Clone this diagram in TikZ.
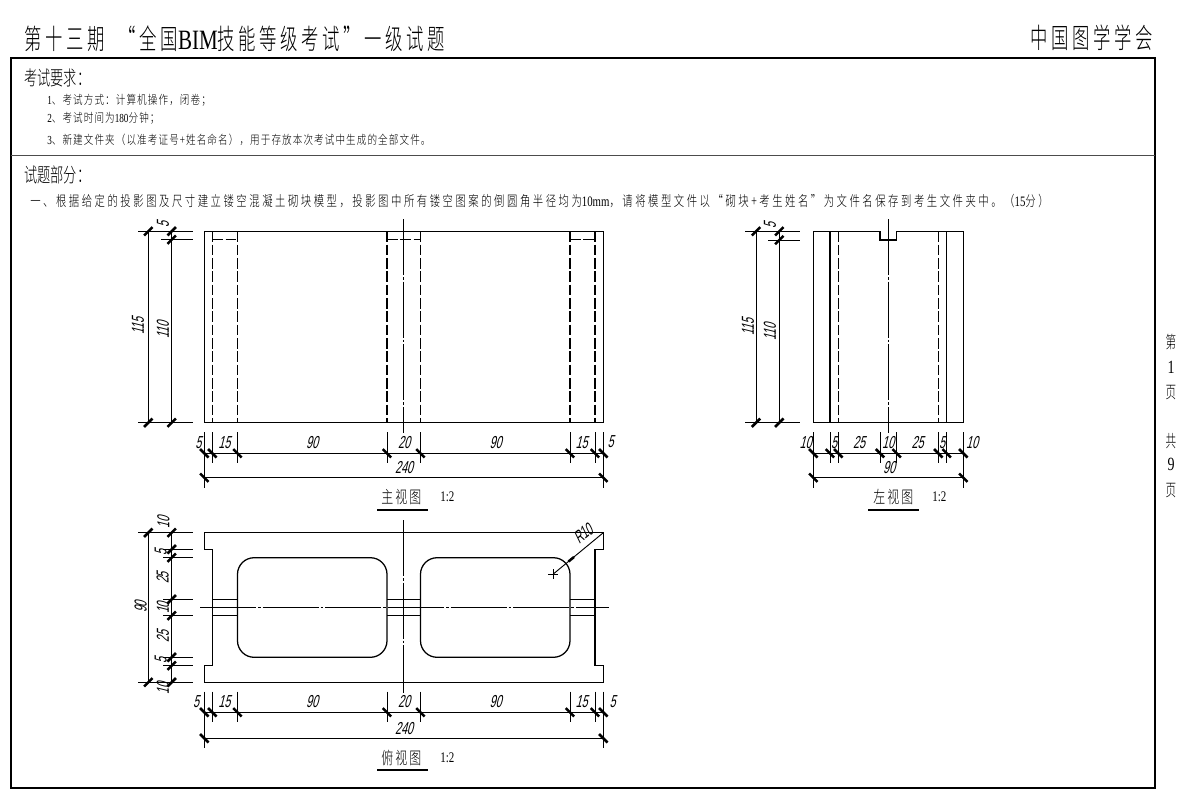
\documentclass[tikz,border=0pt]{standalone}
\usepackage{fontspec}
\setmainfont{Liberation Serif}
\newfontfamily\cjkorg[FakeStretch=.62,LetterSpace=13,UprightFont=* Light]{Noto Sans CJK SC}
\newfontfamily\cjkhead[FakeStretch=.62,UprightFont=* Light]{Noto Sans CJK SC}
\newfontfamily\cjksub[FakeStretch=.66,UprightFont=* Light]{Noto Sans CJK SC}
\newfontfamily\cjklist[FakeStretch=.78,LetterSpace=9,UprightFont=* Light]{Noto Sans CJK SC}
\newfontfamily\cjkquest[FakeStretch=.72,LetterSpace=17.5,UprightFont=* Light]{Noto Sans CJK SC}
\newfontfamily\cjkview[FakeStretch=.7,LetterSpace=12,UprightFont=* Light]{Noto Sans CJK SC}
\newfontfamily\latinnarrow[FakeStretch=.75]{Liberation Serif}
\newfontfamily\dimfam[FakeStretch=.62,FakeSlant=.25]{Liberation Sans}
\tikzset{
  frameline/.style={line width=1.5pt,black},
  dividerline/.style={line width=1pt,black!70},
  outline/.style={line width=.95pt,black},
  hidden/.style={line width=.95pt,black,dash pattern=on 8pt off 2pt},
  centerline/.style={line width=.7pt,black,dash pattern=on 42pt off 1.5pt on 2pt off 1.5pt},
  extline/.style={line width=.7pt,black},
  dimline/.style={line width=.7pt,black},
  tickmark/.style={line width=1.9pt,black},
  viewrule/.style={line width=1.7pt,black},
  htick/.pic={\draw[tickmark] (-4.2,4.2) -- (4.2,-4.2);},
  vtick/.pic={\draw[tickmark] (-4.2,-4.2) -- (4.2,4.2);},
  dimlabel/.style={font=\fontsize{13}{13}\dimfam,inner sep=0pt},
  vdimlabel/.style={dimlabel,rotate=90},
  headtext/.style={font=\fontsize{21}{21}\cjkorg,inner sep=0pt,anchor=west},
  orgtext/.style={font=\fontsize{21}{21}\cjkorg,inner sep=0pt,anchor=east},
  subtext/.style={font=\fontsize{15}{15}\cjksub,inner sep=0pt,anchor=west},
  listtext/.style={font=\fontsize{9.2}{9.2}\cjklist,inner sep=0pt,anchor=west},
  questtext/.style={font=\fontsize{10.8}{10.8}\cjkquest,inner sep=0pt,anchor=west},
  viewtext/.style={font=\fontsize{12.8}{12.8}\cjkview,inner sep=0pt},
  scaletext/.style={font=\fontsize{11}{11}\latinnarrow,inner sep=0pt},
  pagetext/.style={font=\fontsize{12.8}{12.8}\cjkhead,inner sep=0pt},
  pagenum/.style={font=\fontsize{14}{14}\latinnarrow,inner sep=0pt}
}
\begin{document}
\begin{tikzpicture}[x=0.75pt,y=0.75pt,yscale=-1,xscale=1]
    \useasboundingbox (0,0) rectangle (1184,806);
    %Sheet frame
    \draw [frameline] (10.5,58.5) rectangle (1154.5,788);
    \draw [dividerline] (10.5,155.5) -- (1154.5,155.5);
    %Header texts
    \node [headtext] (sheetTitle) at (24,39) {第十三期\hspace{5pt} “全国{\latinnarrow BIM}技能等级考试”一级试题};
    \node [orgtext] (sheetOrg) at (1153,38) {中国图学学会};
    \node [subtext] (reqHead) at (24,78) {考试要求：};
    \node [listtext] (reqOne) at (47,100) {{\latinnarrow 1}、考试方式：计算机操作，闭卷；};
    \node [listtext] (reqTwo) at (47,118) {{\latinnarrow 2}、考试时间为{\latinnarrow 180}分钟；};
    \node [listtext] (reqThree) at (47,140) {{\latinnarrow 3}、新建文件夹（以准考证号+姓名命名），用于存放本次考试中生成的全部文件。};
    \node [subtext] (partHead) at (24,175) {试题部分：};
    \node [questtext] (questOne) at (30,201) {一、根据给定的投影图及尺寸建立镂空混凝土砌块模型，投影图中所有镂空图案的倒圆角半径均为{\latinnarrow 10mm}，请将模型文件以“砌块+考生姓名”为文件名保存到考生文件夹中。（{\latinnarrow 15}分）};
    %Page marks
    \node [pagetext] (pageA) at (1171,342) {第};
    \node [pagenum] (pageB) at (1171,367) {1};
    \node [pagetext] (pageC) at (1171,393) {页};
    \node [pagetext] (pageD) at (1171,441) {共};
    \node [pagenum] (pageE) at (1171,464) {9};
    \node [pagetext] (pageF) at (1171,491) {页};

    %Front view outline
    \draw [outline] (204.3,231.3) rectangle (603.3,422.7);
    %Front view hidden lines
    \draw [hidden] (212.3,231.3) -- (212.3,422.7);
    \draw [hidden] (237.5,231.3) -- (237.5,422.7);
    \draw [hidden] (387,231.3) -- (387,422.7);
    \draw [hidden] (420.5,231.3) -- (420.5,422.7);
    \draw [hidden] (570,231.3) -- (570,422.7);
    \draw [hidden] (595,231.3) -- (595,422.7);
    \draw [hidden] (212.3,239.7) -- (237.5,239.7);
    \draw [hidden] (387,239.7) -- (420.5,239.7);
    \draw [hidden] (570,239.7) -- (595,239.7);
    %Front view center line
    \draw [centerline] (403.7,219) -- (403.7,433);
    %Front view height dimensions
    \draw [extline] (138,231.3) -- (193,231.3);
    \draw [extline] (161,239.7) -- (193,239.7);
    \draw [extline] (138,422.7) -- (193,422.7);
    \draw [dimline] (148.3,231.3) pic {vtick} -- (148.3,422.7) pic {vtick};
    \draw [dimline] (171.7,231.3) pic {vtick} -- (171.7,239.7) pic {vtick} -- (171.7,422.7) pic {vtick};
    \node [vdimlabel] (frontHeightA) at (138,326) {115};
    \node [vdimlabel] (frontHeightB) at (163,330) {110};
    \node [vdimlabel] (frontHeightC) at (163,225) {5};
    %Front view width dimensions
    \draw [extline] (204.3,432) -- (204.3,488);
    \draw [extline] (212.3,432) -- (212.3,463);
    \draw [extline] (237.5,432) -- (237.5,463);
    \draw [extline] (387,432) -- (387,463);
    \draw [extline] (420.5,432) -- (420.5,463);
    \draw [extline] (570,432) -- (570,463);
    \draw [extline] (595,432) -- (595,463);
    \draw [extline] (603.3,432) -- (603.3,488);
    \draw [dimline] (204.3,453.3) pic {htick} -- (212.3,453.3) pic {htick} -- (237.5,453.3) pic {htick} -- (387,453.3) pic {htick} -- (420.5,453.3) pic {htick} -- (570,453.3) pic {htick} -- (595,453.3) pic {htick} -- (603.3,453.3) pic {htick};
    \draw [dimline] (204.3,477.7) pic {htick} -- (603.3,477.7) pic {htick};
    \node [dimlabel] (frontWidthA) at (198.3,443) {5};
    \node [dimlabel] (frontWidthB) at (224.3,443) {15};
    \node [dimlabel] (frontWidthC) at (312,443) {90};
    \node [dimlabel] (frontWidthD) at (404,443) {20};
    \node [dimlabel] (frontWidthE) at (495.7,443) {90};
    \node [dimlabel] (frontWidthF) at (581.7,443) {15};
    \node [dimlabel] (frontWidthG) at (610.7,442) {5};
    \node [dimlabel] (frontWidthH) at (404,468) {240};
    %Front view caption
    \node [viewtext,anchor=west] (frontCaption) at (381,497) {主视图};
    \node [scaletext,anchor=west] (frontScale) at (440,497) {1:2};
    \draw [viewrule] (377,510) -- (428,510);

    %Side view outline
    \draw [outline] (813.3,231.3) -- (880,231.3) -- (880,240) -- (896.7,240) -- (896.7,231.3) -- (963.3,231.3) -- (963.3,422.7) -- (813.3,422.7) -- cycle;
    \draw [outline] (830,231.3) -- (830,422.7);
    \draw [outline] (946.7,231.3) -- (946.7,422.7);
    %Side view hidden lines
    \draw [hidden] (838.3,231.3) -- (838.3,422.7);
    \draw [hidden] (938.3,231.3) -- (938.3,422.7);
    %Side view center line
    \draw [centerline] (888.3,219) -- (888.3,433);
    %Side view height dimensions
    \draw [extline] (745,231.3) -- (800,231.3);
    \draw [extline] (768,240) -- (800,240);
    \draw [extline] (745,422.7) -- (800,422.7);
    \draw [dimline] (756,231.3) pic {vtick} -- (756,422.7) pic {vtick};
    \draw [dimline] (779.3,231.3) pic {vtick} -- (779.3,240) pic {vtick} -- (779.3,422.7) pic {vtick};
    \node [vdimlabel] (sideHeightA) at (748,327) {115};
    \node [vdimlabel] (sideHeightB) at (770,332) {110};
    \node [vdimlabel] (sideHeightC) at (770,226) {5};
    %Side view width dimensions
    \draw [extline] (813.3,432) -- (813.3,488);
    \draw [extline] (830,432) -- (830,463);
    \draw [extline] (838.3,432) -- (838.3,463);
    \draw [extline] (880,432) -- (880,463);
    \draw [extline] (896.7,432) -- (896.7,463);
    \draw [extline] (938.3,432) -- (938.3,463);
    \draw [extline] (946.7,432) -- (946.7,463);
    \draw [extline] (963.3,432) -- (963.3,488);
    \draw [dimline] (813.3,453.3) pic {htick} -- (830,453.3) pic {htick} -- (838.3,453.3) pic {htick} -- (880,453.3) pic {htick} -- (896.7,453.3) pic {htick} -- (938.3,453.3) pic {htick} -- (946.7,453.3) pic {htick} -- (963.3,453.3) pic {htick};
    \draw [dimline] (813.3,477.7) pic {htick} -- (963.3,477.7) pic {htick};
    \node [dimlabel] (sideWidthA) at (805.7,443) {10};
    \node [dimlabel] (sideWidthB) at (834,443) {5};
    \node [dimlabel] (sideWidthC) at (859,443) {25};
    \node [dimlabel] (sideWidthD) at (888,443) {10};
    \node [dimlabel] (sideWidthE) at (917.7,443) {25};
    \node [dimlabel] (sideWidthF) at (942,443) {5};
    \node [dimlabel] (sideWidthG) at (972,443) {10};
    \node [dimlabel] (sideWidthH) at (889,468) {90};
    %Side view caption
    \node [viewtext,anchor=west] (sideCaption) at (873,497) {左视图};
    \node [scaletext,anchor=west] (sideScale) at (932,497) {1:2};
    \draw [viewrule] (868,510) -- (919,510);

    %Top view outline
    \draw [outline] (204.3,532.7) -- (603.3,532.7) -- (603.3,549.3) -- (595,549.3) -- (595,665.7) -- (603.3,665.7) -- (603.3,682.3) -- (204.3,682.3) -- (204.3,665.7) -- (212.3,665.7) -- (212.3,549.3) -- (204.3,549.3) -- cycle;
    %Top view holes
    \draw [outline,rounded corners=16.6*0.75pt] (237.5,557.7) rectangle (387,657.3);
    \draw [outline,rounded corners=16.6*0.75pt] (420.5,557.7) rectangle (570,657.3);
    %Top view webs
    \draw [extline] (212.3,599.3) -- (237.5,599.3);
    \draw [extline] (212.3,615.7) -- (237.5,615.7);
    \draw [extline] (387,599.3) -- (420.5,599.3);
    \draw [extline] (387,615.7) -- (420.5,615.7);
    \draw [extline] (570,599.3) -- (595,599.3);
    \draw [extline] (570,615.7) -- (595,615.7);
    %Top view center lines
    \draw [centerline] (200,607.3) -- (609,607.3);
    \draw [centerline] (403.7,520) -- (403.7,693);
    %Radius mark
    \draw [extline] (603.3,532.7) -- (553.3,574);
    \draw [tickmark] (568.5,561.5) -- (574,557);
    \draw [extline] (548.3,574) -- (558.3,574);
    \draw [extline] (553.3,569) -- (553.3,579);
    \node [dimlabel,rotate=40] (radiusLabel) at (583,534) {R10};
    %Top view height dimensions
    \draw [extline] (138,532.7) -- (193,532.7);
    \draw [extline] (163,549.3) -- (193,549.3);
    \draw [extline] (163,557.7) -- (193,557.7);
    \draw [extline] (163,599.3) -- (193,599.3);
    \draw [extline] (163,615.7) -- (193,615.7);
    \draw [extline] (163,657.3) -- (193,657.3);
    \draw [extline] (163,665.7) -- (193,665.7);
    \draw [extline] (138,682.3) -- (193,682.3);
    \draw [dimline] (148.3,532.7) pic {vtick} -- (148.3,682.3) pic {vtick};
    \draw [dimline] (171.7,532.7) pic {vtick} -- (171.7,549.3) pic {vtick} -- (171.7,557.7) pic {vtick} -- (171.7,599.3) pic {vtick} -- (171.7,615.7) pic {vtick} -- (171.7,657.3) pic {vtick} -- (171.7,665.7) pic {vtick} -- (171.7,682.3) pic {vtick};
    \node [vdimlabel] (topHeightA) at (140.7,607) {90};
    \node [vdimlabel] (topHeightB) at (163.3,522.7) {10};
    \node [vdimlabel] (topHeightC) at (160.7,553) {5};
    \node [vdimlabel] (topHeightD) at (162.7,578) {25};
    \node [vdimlabel] (topHeightE) at (163,608) {10};
    \node [vdimlabel] (topHeightF) at (163,636.7) {25};
    \node [vdimlabel] (topHeightG) at (160.7,660.7) {5};
    \node [vdimlabel] (topHeightH) at (163,688.3) {10};
    %Top view width dimensions
    \draw [extline] (204.3,691.7) -- (204.3,748.3);
    \draw [extline] (212.3,691.7) -- (212.3,722.3);
    \draw [extline] (237.5,691.7) -- (237.5,722.3);
    \draw [extline] (387,691.7) -- (387,722.3);
    \draw [extline] (420.5,691.7) -- (420.5,722.3);
    \draw [extline] (570,691.7) -- (570,722.3);
    \draw [extline] (595,691.7) -- (595,722.3);
    \draw [extline] (603.3,691.7) -- (603.3,748.3);
    \draw [dimline] (204.3,712.3) pic {htick} -- (212.3,712.3) pic {htick} -- (237.5,712.3) pic {htick} -- (387,712.3) pic {htick} -- (420.5,712.3) pic {htick} -- (570,712.3) pic {htick} -- (595,712.3) pic {htick} -- (603.3,712.3) pic {htick};
    \draw [dimline] (204.3,738.3) pic {htick} -- (603.3,738.3) pic {htick};
    \node [dimlabel] (topWidthA) at (196,702) {5};
    \node [dimlabel] (topWidthB) at (224.3,702) {15};
    \node [dimlabel] (topWidthC) at (312,702) {90};
    \node [dimlabel] (topWidthD) at (404,702) {20};
    \node [dimlabel] (topWidthE) at (495.7,702) {90};
    \node [dimlabel] (topWidthF) at (581.7,702) {15};
    \node [dimlabel] (topWidthG) at (612.7,702) {5};
    \node [dimlabel] (topWidthH) at (404,728.3) {240};
    %Top view caption
    \node [viewtext,anchor=west] (topCaption) at (381,758) {俯视图};
    \node [scaletext,anchor=west] (topScale) at (440,758) {1:2};
    \draw [viewrule] (377,770) -- (428,770);
\end{tikzpicture}
\end{document}
